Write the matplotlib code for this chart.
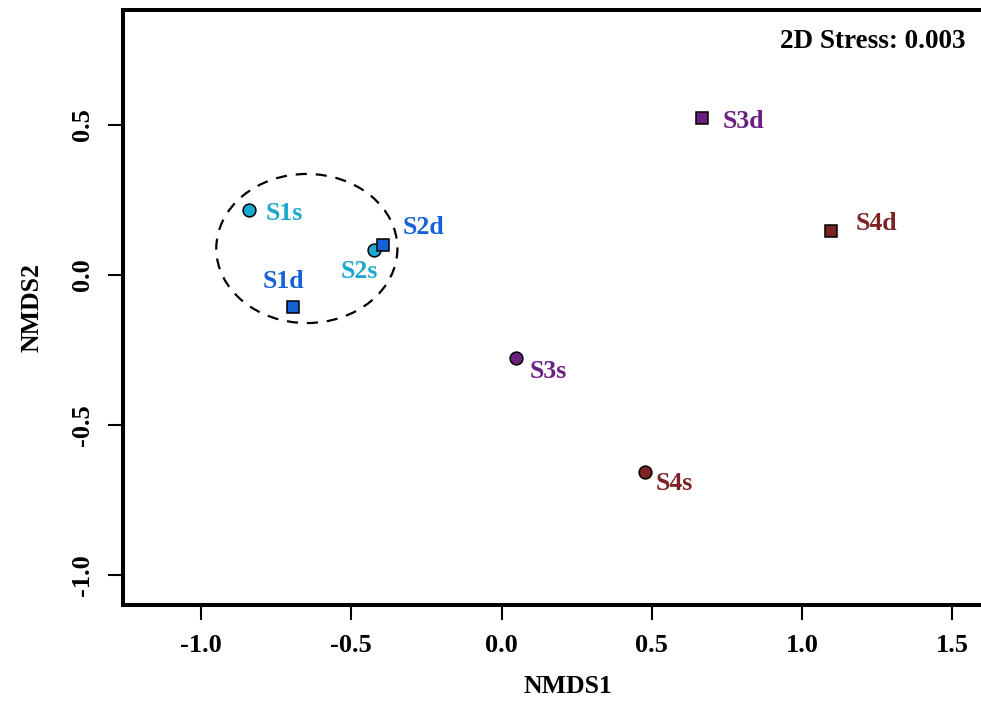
import matplotlib
matplotlib.use("Agg")
import matplotlib.pyplot as plt
from matplotlib.patches import Ellipse

# NMDS site scores
samples = ["S1s", "S1d", "S2s", "S2d", "S3s", "S3d", "S4s", "S4d"]
nmds1 = [-0.840, -0.694, -0.424, -0.394, 0.048, 0.667, 0.478, 1.097]
nmds2 = [0.217, -0.107, 0.083, 0.100, -0.277, 0.523, -0.657, 0.147]
shapes = ["o", "s", "o", "s", "o", "s", "o", "s"]
colors = ["#1ba8cf", "#1462d6", "#1ba8cf", "#1462d6",
          "#6b1f80", "#6b1f80", "#7c2424", "#7c2424"]
# label offsets (pixels) relative to each point
label_dx = [35, -10, -15, 40, 32, 42, 29, 45]
label_dy = [-4, 26, -21, 17, -14, -3, -12, 7]

# cluster ellipse around S1/S2
ell_center = (-0.648, 0.088)
ell_width, ell_height = 0.603, 0.497

stress_text = "2D Stress: 0.003"
xticks = [-1.0, -0.5, 0.0, 0.5, 1.0, 1.5]
yticks = [-1.0, -0.5, 0.0, 0.5]

plt.rcParams["font.family"] = ["Liberation Serif", "DejaVu Serif"]
plt.rcParams["font.weight"] = "bold"

W, H = 981, 703
fig = plt.figure(figsize=(W / 100, H / 100), dpi=100)

xlim = (-1.26, 1.70)
ylim = (-1.10, 0.883)
px_per_x = 300.4
px_per_y = 300.0
left_px, top_px = 123, 10
w_px = (xlim[1] - xlim[0]) * px_per_x
h_px = (ylim[1] - ylim[0]) * px_per_y
ax = fig.add_axes([left_px / W, 1 - (top_px + h_px) / H, w_px / W, h_px / H])
ax.set_xlim(*xlim)
ax.set_ylim(*ylim)

for s in ax.spines.values():
    s.set_linewidth(2.9)

ell = Ellipse(ell_center, ell_width, ell_height, fill=False, edgecolor="black",
              linewidth=1.6, linestyle=(0, (5, 4)), zorder=2)
ax.add_patch(ell)

for name, x, y, m, c, dx, dy in zip(samples, nmds1, nmds2, shapes, colors,
                                     label_dx, label_dy):
    size = 9.2 if m == "o" else 8.6
    ax.plot(x, y, marker=m, markersize=size, markerfacecolor=c,
            markeredgecolor="black", markeredgewidth=1.1, linestyle="none",
            zorder=3)
    ax.annotate(name, (x, y), xytext=(dx, dy), textcoords="offset pixels",
                ha="center", va="center", color=c, fontsize=18.5,
                fontweight="bold", zorder=4)

ax.text(966 / W, 1 - 42 / H, stress_text, transform=fig.transFigure,
        ha="right", va="center", fontsize=19.5, fontweight="bold")

ax.set_xticks(xticks)
ax.set_yticks(yticks)
ax.set_xticklabels([f"{t:.1f}" for t in xticks])
ax.set_yticklabels([f"{t:.1f}" for t in yticks], rotation=90, va="center")
ax.tick_params(axis="both", direction="out", length=11, width=1.5,
               labelsize=19, pad=10)

ax.set_xlabel("NMDS1", fontsize=18.5, fontweight="bold", labelpad=13)
ax.set_ylabel("NMDS2", fontsize=18.5, fontweight="bold", labelpad=20)

fig.savefig("out.png", dpi=100)
